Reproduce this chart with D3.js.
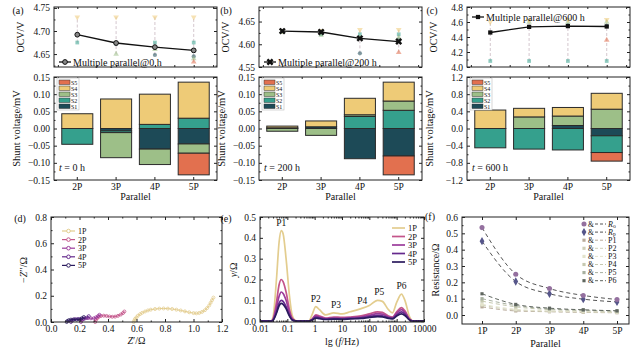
<!DOCTYPE html>
<html><head><meta charset="utf-8">
<script src="https://cdn.jsdelivr.net/npm/d3@7"></script>
<style>
body{margin:0;background:#fff}
svg, svg text{font-family:"Liberation Serif","DejaVu Serif","Times New Roman",serif}
</style></head>
<body><svg id="chart" width="640" height="350"></svg>
<script>
// ---- data ----
const parallels = ['2P', '3P', '4P', '5P'];
const cells = ['S1', 'S2', 'S3', 'S4', 'S5'];

// OCV of the parallel pack (black line) and the single cells
const ocvPack0 = [4.692, 4.674, 4.665, 4.658];
const ocvCells0 = {
  S1: [null, 4.672, 4.648, 4.645],
  S2: [4.675, 4.674, 4.675, 4.675],
  S3: [null, 4.65, 4.66, 4.64],
  S4: [4.73, 4.73, 4.73, 4.73],
  S5: [null, null, null, 4.633]
};
const ocvPack200 = [4.629, 4.627, 4.613, 4.606];
const ocvCells200 = {
  S1: [null, 4.628, 4.58, 4.61],
  S2: [4.628, 4.622, 4.622, 4.622],
  S3: [4.627, 4.62, 4.615, 4.615],
  S4: [4.63, 4.63, 4.632, 4.632],
  S5: [null, null, null, 4.582]
};
const ocvPack600 = [4.46, 4.535, 4.545, 4.54];
const ocvCells600 = {
  S1: [null, null, 4.56, 4.55],
  S2: [4.08, 4.08, 4.08, 4.08],
  S3: [null, 4.6, 4.6, 4.6],
  S4: [4.6, 4.62, 4.63, 4.63],
  S5: [null, null, null, 4.36]
};

// shunt voltages (mV)
const shunt0 = {
  S1: [0, -0.007, -0.06, -0.045],
  S2: [-0.046, -0.005, 0.012, 0.03],
  S3: [0, -0.073, -0.045, -0.027],
  S4: [0.043, 0.086, 0.088, 0.105],
  S5: [0, 0, 0, -0.063]
};
const shunt200 = {
  S1: [0.002, 0.005, -0.088, -0.08],
  S2: [0, 0, 0.035, 0.053],
  S3: [-0.008, -0.02, 0.005, 0.027],
  S4: [0.005, 0.017, 0.048, 0.055],
  S5: [0, 0, 0, -0.055]
};
const shunt600 = {
  S1: [0, 0, 0.07, -0.17],
  S2: [-0.45, -0.48, -0.5, -0.39],
  S3: [0, 0.27, 0.22, 0.45],
  S4: [0.43, 0.2, 0.2, 0.37],
  S5: [0, 0, 0, -0.2]
};

// (d) Nyquist  [Z', -Z'']
const packs = ['1P', '2P', '3P', '4P', '5P'];
const nyq1P = [[0.58,0],[0.585,0.012],[0.59,0.024],[0.6,0.036],[0.61,0.048],[0.625,0.06],[0.64,0.07],[0.66,0.08],[0.68,0.088],[0.7,0.094],[0.73,0.099],[0.76,0.102],[0.79,0.103],[0.82,0.102],[0.85,0.099],[0.88,0.094],[0.91,0.088],[0.94,0.081],[0.97,0.074],[1.0,0.068],[1.02,0.066],[1.04,0.069],[1.06,0.077],[1.08,0.09],[1.095,0.106],[1.11,0.126],[1.12,0.146],[1.13,0.166],[1.14,0.186]];
const nyq2P = [[0.31,0],[0.315,0.015],[0.325,0.03],[0.335,0.04],[0.35,0.046],[0.37,0.048],[0.39,0.046],[0.41,0.042],[0.43,0.04],[0.45,0.041],[0.47,0.047],[0.49,0.057],[0.505,0.068],[0.515,0.08]];
const nyq3P = [[0.21,0],[0.215,0.012],[0.225,0.022],[0.24,0.028],[0.26,0.03],[0.28,0.028],[0.3,0.028],[0.315,0.035],[0.33,0.045],[0.34,0.055]];
const nyq4P = [[0.14,0],[0.145,0.01],[0.155,0.018],[0.17,0.022],[0.19,0.023],[0.21,0.022],[0.23,0.024],[0.25,0.032],[0.265,0.045]];
const nyq5P = [[0.11,0],[0.115,0.008],[0.125,0.014],[0.14,0.018],[0.16,0.019],[0.18,0.018],[0.2,0.02],[0.215,0.028],[0.23,0.038]];

// (e) DRT
const drtFreq = [0.01,0.025,0.03,0.04,0.05,0.06,0.07,0.09,0.12,0.15,0.2,0.3,0.6,0.8,1.1,1.5,2.5,5,10,20,50,100,200,300,500,700,1000,1500,2000,3000,4000,10000];
const drt1P = [0,0,0.02,0.2,0.38,0.435,0.42,0.3,0.12,0.03,0.003,0,0,0.03,0.07,0.055,0.03,0.04,0.035,0.045,0.06,0.075,0.1,0.095,0.055,0.04,0.09,0.13,0.1,0.02,0,0];
const drt2P = [0,0,0.01,0.09,0.175,0.2,0.19,0.14,0.055,0.015,0.002,0,0,0.01,0.03,0.025,0.015,0.02,0.018,0.02,0.025,0.035,0.045,0.042,0.025,0.02,0.045,0.065,0.05,0.01,0,0];
const drt3P = [0,0,0.007,0.065,0.12,0.14,0.133,0.1,0.04,0.01,0.001,0,0,0.008,0.025,0.02,0.012,0.015,0.014,0.016,0.02,0.028,0.036,0.034,0.02,0.016,0.038,0.055,0.042,0.008,0,0];
const drt4P = [0,0,0.005,0.045,0.087,0.1,0.095,0.07,0.028,0.007,0.001,0,0,0.006,0.02,0.016,0.01,0.012,0.011,0.013,0.016,0.022,0.028,0.026,0.016,0.013,0.03,0.045,0.034,0.006,0,0];
const drt5P = [0,0,0.004,0.038,0.074,0.085,0.081,0.06,0.024,0.006,0.001,0,0,0.005,0.015,0.012,0.008,0.01,0.009,0.011,0.013,0.018,0.022,0.021,0.013,0.011,0.025,0.035,0.027,0.005,0,0];
const drtPeaks = [['P1',0.06,0.435],['P2',1.1,0.07],['P3',6,0.04],['P4',55,0.06],['P5',230,0.1],['P6',1500,0.13]];

// (f) resistances
const resKeys = ['Ro', 'Rp', 'P1', 'P2', 'P3', 'P4', 'P5', 'P6'];
const resRo = [0.535, 0.25, 0.162, 0.12, 0.095];
const resRp = [0.452, 0.205, 0.13, 0.097, 0.08];
const resP1 = [0.05, 0.025, 0.02, 0.016, 0.014];
const resP2 = [0.06, 0.03, 0.022, 0.019, 0.016];
const resP3 = [0.065, 0.035, 0.025, 0.02, 0.018];
const resP4 = [0.085, 0.05, 0.033, 0.027, 0.022];
const resP5 = [0.1, 0.058, 0.037, 0.03, 0.024];
const resP6 = [0.13, 0.065, 0.042, 0.032, 0.026];

// ---- styles ----
const serif = '"Liberation Serif","DejaVu Serif","Times New Roman",serif';
const cellColor = {S1: '#1d4a57', S2: '#35a08d', S3: '#9dbf88', S4: '#eecb77', S5: '#e2704f'};
const cellSymbol = {S1: d3.symbolCircle, S2: d3.symbolSquare, S3: d3.symbolTriangle, S4: d3.symbolTriangle, S5: d3.symbolTriangle};
const packColor = {'1P': '#e3cd8f', '2P': '#c4558a', '3P': '#9b3b9b', '4P': '#65298d', '5P': '#2b1b5e'};
const resColor = {Ro: '#94709f', Rp: '#56568a', P1: '#b8aa9a', P2: '#cfcfb8', P3: '#e3e3cc', P4: '#c6c9b0', P5: '#a8b0a0', P6: '#5f665f'};

const svg = d3.select('#chart');
const ink = '#222';

function frame(x0, y0, x1, y1) {
  svg.append('rect').attr('x', x0).attr('y', y0).attr('width', x1 - x0).attr('height', y1 - y0)
    .attr('fill', 'none').attr('stroke', ink).attr('stroke-width', 1);
}

function tickAxis(axisFn, scale, pos, vals, fmt, size, isX) {
  const a = axisFn(scale).tickValues(vals).tickSize(-size).tickPadding(isX ? 3 : 4);
  a.tickFormat(fmt || '');
  const g = svg.append('g').attr('transform', isX ? `translate(0,${pos})` : `translate(${pos},0)`).call(a);
  g.attr('font-family', serif).attr('font-size', 9.5);
  g.select('.domain').remove();
  g.selectAll('line').attr('stroke', ink);
  g.selectAll('text').attr('fill', '#111');
  return g;
}

function yAxes(y, x0, x1, major, minor, fmt) {
  tickAxis(d3.axisLeft, y, x0, major, fmt, 3, false);
  tickAxis(d3.axisLeft, y, x0, minor, null, 1.5, false);
  tickAxis(d3.axisRight, y, x1, major, null, 3, false);
  tickAxis(d3.axisRight, y, x1, minor, null, 1.5, false);
}

function label(x, y, txt, opts = {}) {
  const t = svg.append('text').attr('x', x).attr('y', y).attr('font-size', opts.size || 10)
    .attr('font-family', serif).attr('fill', '#111').attr('text-anchor', opts.anchor || 'middle');
  if (opts.rotate) t.attr('transform', `rotate(-90,${x},${y})`);
  if (opts.html) t.html(txt); else t.text(txt);
  return t;
}

const fmtSigned = d => d3.format('.2f')(d).replace('-', '\u2212');

// ---- top row ----
const cols = [
  {x0: 54, x1: 217, tag: '(a)', tagX: 10, pack: ocvPack0, cellsV: ocvCells0, shunt: shunt0,
   ocvDom: [4.622, 4.752], ocvMajor: [4.65, 4.70, 4.75], ocvMinor: [4.625, 4.675, 4.725], ocvFmt: d3.format('.2f'),
   sym: d3.symbolCircle, legend: 'Multiple parallel@0 h', legY: 62, shuntDom: [-0.15, 0.15],
   shuntMajor: [-0.15, -0.1, -0.05, 0, 0.05, 0.1, 0.15], shuntFmt: fmtSigned, t: '0 h'},
  {x0: 259, x1: 422, tag: '(b)', tagX: 218, pack: ocvPack200, cellsV: ocvCells200, shunt: shunt200,
   ocvDom: [4.55, 4.682], ocvMajor: [4.55, 4.60, 4.65], ocvMinor: [4.575, 4.625, 4.675], ocvFmt: d3.format('.2f'),
   sym: d3.symbolCross, legend: 'Multiple parallel@200 h', legY: 62, shuntDom: [-0.15, 0.15],
   shuntMajor: [-0.15, -0.1, -0.05, 0, 0.05, 0.1, 0.15], shuntFmt: fmtSigned, t: '200 h'},
  {x0: 467, x1: 630, tag: '(c)', tagX: 424, pack: ocvPack600, cellsV: ocvCells600, shunt: shunt600,
   ocvDom: [4.0, 4.8], ocvMajor: [4.0, 4.2, 4.4, 4.6, 4.8], ocvMinor: [4.1, 4.3, 4.5, 4.7], ocvFmt: d3.format('.1f'),
   sym: d3.symbolSquare, legend: 'Multiple parallel@600 h', legY: 17, shuntDom: [-1.2, 1.2],
   shuntMajor: [-1.2, -0.8, -0.4, 0, 0.4, 0.8, 1.2], shuntFmt: d => d3.format('.1f')(d).replace('-', '\u2212'), t: '600 h'}
];

cols.forEach(c => {
  const x = d3.scaleBand().domain(parallels).range([c.x0, c.x1]).padding(0.2);
  const cx = p => x(p) + x.bandwidth() / 2;
  const xMinor = parallels.map(p => cx(p) - x.step() / 2).concat([cx('5P') + x.step() / 2]);
  const xl = d3.scaleIdentity();

  // --- OCV panel
  const ty0 = 7, ty1 = 67;
  const y = d3.scaleLinear().domain(c.ocvDom).range([ty1, ty0]);
  parallels.forEach((p, i) => {
    const vals = cells.map(s => c.cellsV[s][i]).filter(v => v != null).concat([c.pack[i]]);
    svg.append('line').attr('x1', cx(p)).attr('x2', cx(p)).attr('y1', y(d3.min(vals))).attr('y2', y(d3.max(vals)))
      .attr('stroke', '#c9b9c2').attr('stroke-dasharray', '3,2').attr('stroke-width', 0.8);
  });
  cells.forEach(s => {
    parallels.forEach((p, i) => {
      const v = c.cellsV[s][i];
      if (v == null) return;
      svg.append('path').attr('d', d3.symbol(cellSymbol[s], 14)())
        .attr('transform', `translate(${cx(p)},${y(v)})` + (s === 'S4' ? ' rotate(180)' : ''))
        .attr('fill', cellColor[s]).attr('opacity', 0.55);
    });
  });
  svg.append('path').datum(parallels.map((p, i) => [cx(p), y(c.pack[i])]))
    .attr('d', d3.line()).attr('fill', 'none').attr('stroke', '#111').attr('stroke-width', 1.3);
  const packMark = (sel) => {
    if (c.sym === d3.symbolCircle) sel.attr('fill', '#888').attr('stroke', '#111').attr('stroke-width', 1);
    else sel.attr('fill', '#111');
  };
  parallels.forEach((p, i) => {
    packMark(svg.append('path').attr('d', d3.symbol(c.sym, c.sym === d3.symbolCross ? 30 : 18)())
      .attr('transform', `translate(${cx(p)},${y(c.pack[i])})` + (c.sym === d3.symbolCross ? ' rotate(45)' : '')));
  });
  frame(c.x0, ty0, c.x1, ty1);
  tickAxis(d3.axisTop, xl, ty0, xMinor.concat(parallels.map(cx)), null, 2, true);
  tickAxis(d3.axisBottom, xl, ty1, xMinor.concat(parallels.map(cx)), null, 2, true);
  yAxes(y, c.x0, c.x1, c.ocvMajor, c.ocvMinor, c.ocvFmt);
  // legend
  const lx = c.x0 + 5;
  svg.append('line').attr('x1', lx).attr('x2', lx + 12).attr('y1', c.legY).attr('y2', c.legY).attr('stroke', '#111').attr('stroke-width', 1.3);
  packMark(svg.append('path').attr('d', d3.symbol(c.sym, c.sym === d3.symbolCross ? 30 : 18)())
    .attr('transform', `translate(${lx + 6},${c.legY})` + (c.sym === d3.symbolCross ? ' rotate(45)' : '')));
  label(lx + 14, c.legY + 3.5, c.legend, {anchor: 'start', size: 10});
  label(c.x0 - 30, (ty0 + ty1) / 2, 'OCV/V', {rotate: true, size: 10});
  label(c.tagX + 8, 14, c.tag, {size: 10});

  // --- shunt panel
  const by0 = 77, by1 = 180;
  const ys = d3.scaleLinear().domain(c.shuntDom).range([by1, by0]);
  const rows = parallels.map((p, i) => {
    const r = {p};
    cells.forEach(s => r[s] = c.shunt[s][i]);
    return r;
  });
  const stacked = d3.stack().keys(cells).offset(d3.stackOffsetDiverging)(rows);
  stacked.forEach(series => {
    svg.append('g').selectAll('rect').data(series.filter(d => d[0] !== d[1])).join('rect')
      .attr('x', d => x(d.data.p)).attr('width', x.bandwidth())
      .attr('y', d => ys(Math.max(d[0], d[1]))).attr('height', d => Math.abs(ys(d[0]) - ys(d[1])))
      .attr('fill', cellColor[series.key]).attr('stroke', '#2a2a2a').attr('stroke-width', 1);
  });
  frame(c.x0, by0, c.x1, by1);
  const stepY = c.shuntMajor[1] - c.shuntMajor[0];
  yAxes(ys, c.x0, c.x1, c.shuntMajor, c.shuntMajor.slice(0, -1).map(v => v + stepY / 2), c.shuntFmt);
  tickAxis(d3.axisBottom, x, by1, parallels, d => d, 3, true);
  tickAxis(d3.axisTop, xl, by0, xMinor.concat(parallels.map(cx)), null, 2, true);
  label((c.x0 + c.x1) / 2, 200, 'Parallel', {size: 10});
  label(c.x0 - 34, (by0 + by1) / 2, 'Shunt voltage/mV', {rotate: true, size: 10.5});
  label(c.x0 + 5, 171, `<tspan font-style="italic">t</tspan> = ${c.t}`, {anchor: 'start', size: 10, html: true});
  // bar legend
  const lg = svg.append('g');
  lg.append('rect').attr('x', c.x0 + 3).attr('y', by0 + 1).attr('width', 22).attr('height', 32)
    .attr('fill', '#fff').attr('stroke', '#bbb').attr('stroke-width', 0.6);
  cells.slice().reverse().forEach((s, i) => {
    lg.append('rect').attr('x', c.x0 + 5).attr('y', by0 + 3 + i * 6).attr('width', 11).attr('height', 4.5)
      .attr('fill', cellColor[s]).attr('stroke', '#333').attr('stroke-width', 0.5);
    lg.append('text').attr('x', c.x0 + 17).attr('y', by0 + 7.5 + i * 6).text(s)
      .attr('font-size', 6).attr('font-family', serif).attr('fill', '#111');
  });
});

// ---- (d) Nyquist ----
{
  const x0 = 51, x1 = 222, y0 = 217, y1 = 322;
  const x = d3.scaleLinear().domain([0, 1.2]).range([x0, x1]);
  const y = d3.scaleLinear().domain([0, 0.8]).range([y1, y0]);
  const series = {'1P': nyq1P, '2P': nyq2P, '3P': nyq3P, '4P': nyq4P, '5P': nyq5P};
  packs.forEach(k => {
    const pts = series[k];
    svg.append('path').datum(pts).attr('d', d3.line().x(d => x(d[0])).y(d => y(d[1])))
      .attr('fill', 'none').attr('stroke', packColor[k]).attr('stroke-width', 1);
    svg.append('g').selectAll('circle').data(pts).join('circle')
      .attr('cx', d => x(d[0])).attr('cy', d => y(d[1])).attr('r', 1.5)
      .attr('fill', 'none').attr('stroke', packColor[k]).attr('stroke-width', 0.8);
  });
  frame(x0, y0, x1, y1);
  tickAxis(d3.axisBottom, x, y1, d3.range(0, 1.21, 0.2), d3.format('.1f'), 3, true);
  tickAxis(d3.axisBottom, x, y1, d3.range(0.1, 1.2, 0.2), null, 1.5, true);
  tickAxis(d3.axisTop, x, y0, d3.range(0, 1.21, 0.2), null, 3, true);
  tickAxis(d3.axisTop, x, y0, d3.range(0.1, 1.2, 0.2), null, 1.5, true);
  yAxes(y, x0, x1, d3.range(0, 0.81, 0.2), d3.range(0.1, 0.8, 0.2), d3.format('.1f'));
  packs.forEach((k, i) => {
    const ly = 231 + i * 8.6;
    svg.append('line').attr('x1', 62).attr('x2', 75).attr('y1', ly).attr('y2', ly).attr('stroke', packColor[k]).attr('stroke-width', 1.2);
    svg.append('circle').attr('cx', 68.5).attr('cy', ly).attr('r', 1.8).attr('fill', '#fff').attr('stroke', packColor[k]);
    label(78, ly + 3, k, {anchor: 'start', size: 8});
  });
  label(20, 222, '(d)', {size: 10});
  label(27, 270, '\u2212<tspan font-style="italic">Z</tspan>\u2032\u2032/\u03a9', {rotate: true, html: true, size: 10});
  label((x0 + x1) / 2, 344, '<tspan font-style="italic">Z</tspan>\u2032/\u03a9', {html: true, size: 10});
}

// ---- (e) DRT ----
{
  const x0 = 260, x1 = 424, y0 = 217, y1 = 322;
  const x = d3.scaleLog().domain([0.01, 10000]).range([x0, x1]);
  const y = d3.scaleLinear().domain([-0.004, 0.5]).range([y1, y0]);
  const series = {'1P': drt1P, '2P': drt2P, '3P': drt3P, '4P': drt4P, '5P': drt5P};
  packs.forEach(k => {
    svg.append('path').datum(drtFreq.map((f, i) => [f, series[k][i]]))
      .attr('d', d3.line().x(d => x(d[0])).y(d => y(d[1])).curve(d3.curveMonotoneX))
      .attr('fill', 'none').attr('stroke', packColor[k]).attr('stroke-width', 1.7);
  });
  drtPeaks.forEach(([t, f, v]) => label(x(f), y(v) - 5, t, {size: 9.5}));
  frame(x0, y0, x1, y1);
  const majors = [0.01, 0.1, 1, 10, 100, 1000, 10000];
  const minors = x.ticks().filter(v => !majors.some(m => Math.abs(m - v) < 1e-9));
  tickAxis(d3.axisBottom, x, y1, majors, d => String(d), 3, true);
  tickAxis(d3.axisBottom, x, y1, minors, null, 1.5, true);
  tickAxis(d3.axisTop, x, y0, majors, null, 3, true);
  tickAxis(d3.axisTop, x, y0, minors, null, 1.5, true);
  yAxes(y, x0, x1, d3.range(0, 0.51, 0.1), d3.range(0.05, 0.5, 0.1), d3.format('.1f'));
  packs.forEach((k, i) => {
    const ly = 228 + i * 8.5;
    svg.append('line').attr('x1', 392).attr('x2', 405).attr('y1', ly).attr('y2', ly).attr('stroke', packColor[k]).attr('stroke-width', 1.7);
    label(408, ly + 3, k, {anchor: 'start', size: 8.5});
  });
  label(226, 222, '(e)', {size: 10});
  label(237, 270, '<tspan font-style="italic">y</tspan>/\u03a9', {rotate: true, html: true, size: 10});
  label((x0 + x1) / 2, 345, 'lg (<tspan font-style="italic">f</tspan>/Hz)', {html: true, size: 10});
}

// ---- (f) resistances ----
{
  const x0 = 462, x1 = 629, y0 = 217, y1 = 324;
  const resCats = ['1P', '2P', '3P', '4P', '5P'];
  const x = d3.scalePoint().domain(resCats).range([x0 + 20, x1 - 12]);
  const y = d3.scaleLinear().domain([-0.055, 0.6]).range([y1, y0]);
  const series = {Ro: resRo, Rp: resRp, P1: resP1, P2: resP2, P3: resP3, P4: resP4, P5: resP5, P6: resP6};
  const drawOrder = ['P1', 'P2', 'P3', 'P4', 'P5', 'P6', 'Rp', 'Ro'];
  const symFor = k => k === 'Ro' ? d3.symbolCircle : k === 'Rp' ? d3.symbolDiamond : d3.symbolSquare;
  const sizeFor = k => k === 'Ro' || k === 'Rp' ? 20 : 10;
  drawOrder.forEach(k => {
    const vals = series[k];
    svg.append('path').datum(resCats.map((c, i) => [x(c), y(vals[i])])).attr('d', d3.line().curve(d3.curveMonotoneX))
      .attr('fill', 'none').attr('stroke', k === 'Ro' || k === 'Rp' ? '#555' : resColor[k])
      .attr('stroke-width', 1).attr('stroke-dasharray', '4,3');
    resCats.forEach((c, i) => {
      svg.append('path').attr('d', d3.symbol(symFor(k), sizeFor(k))()).attr('transform', `translate(${x(c)},${y(vals[i])})`)
        .attr('fill', resColor[k]);
    });
  });
  frame(x0, y0, x1, y1);
  tickAxis(d3.axisBottom, x, y1, resCats, d => d, 3, true);
  tickAxis(d3.axisTop, x, y0, resCats, null, 3, true);
  yAxes(y, x0, x1, d3.range(0, 0.61, 0.1), d3.range(0.05, 0.6, 0.1), d3.format('.1f'));
  resKeys.forEach((k, i) => {
    const ly = 224 + i * 8.1;
    svg.append('path').attr('d', d3.symbol(symFor(k), sizeFor(k))()).attr('transform', `translate(584,${ly})`).attr('fill', resColor[k]);
    label(588, ly + 2.5, '&', {anchor: 'start', size: 7.5});
    svg.append('line').attr('x1', 595).attr('x2', 606).attr('y1', ly).attr('y2', ly)
      .attr('stroke', k === 'Ro' || k === 'Rp' ? '#555' : resColor[k]).attr('stroke-dasharray', '3,2');
    const txt = k === 'Ro' ? '<tspan font-style="italic">R</tspan><tspan font-size="5.5" dy="1.5">o</tspan>'
      : k === 'Rp' ? '<tspan font-style="italic">R</tspan><tspan font-size="5.5" dy="1.5">p</tspan>' : k;
    label(608, ly + 2.5, txt, {anchor: 'start', size: 8, html: true});
  });
  label(430, 220, '(f)', {size: 10});
  label(439, 270, 'Resistance/\u03a9', {rotate: true, size: 10});
  label((x0 + x1) / 2, 347, 'Parallel', {size: 10});
}
</script>
</body></html>
